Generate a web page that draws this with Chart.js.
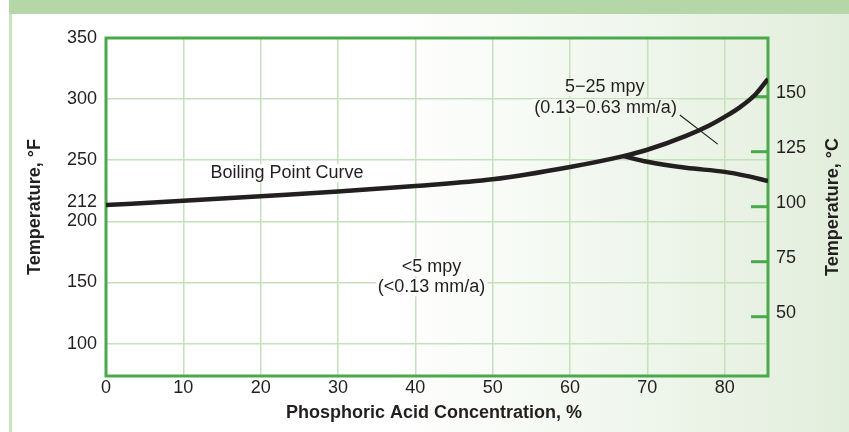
<!DOCTYPE html>
<html>
<head>
<meta charset="utf-8">
<script src="https://cdn.jsdelivr.net/npm/chart.js@4.4.1/dist/chart.umd.min.js"></script>
<style>
  html, body { margin: 0; padding: 0; background: #fff; }
  #wrap { width: 849px; height: 432px; }
</style>
</head>
<body>
<div id="wrap"><canvas id="myChart" width="849" height="432"></canvas></div>
<script>
// boiling point curve, temperature in °F against acid concentration in %
const concentration = [0, 10, 20, 30, 40, 50, 60, 66.9, 70, 75, 78, 80, 82, 84, 85.6];
const boilingF = [213.3, 216.8, 220.6, 224.4, 229, 234.4, 244.5, 253.4, 258.6, 270, 278.5, 285.5, 293.5, 304, 316.5];

// 5 mpy isocorrosion line branching off the boiling curve
const branchConc = [66.9, 70, 75, 80, 82.8, 85.6];
const branchF = [253.4, 248.7, 243.8, 240.5, 237.2, 233];

// leader line from the "5-25 mpy" label
const leaderConc = [74.2, 79.1];
const leaderF = [287, 263.2];

const xTicks = [0, 10, 20, 30, 40, 50, 60, 70, 80];
const fTicks = [100, 150, 200, 212, 250, 300, 350];
const cTicks = [50, 75, 100, 125, 150];

const xMin = 0, xMax = 85.6;
const fMin = 73.5, fMax = 350;
const toC = (f) => (f - 32) * 5 / 9;

const labels = [
  { text: "Boiling Point Curve", x: 23.4, y: 239.5 },
  { text: "<5 mpy", x: 42.1, y: 162.5 },
  { text: "(<0.13 mm/a)", x: 42.1, y: 146 },
  { text: "5\u221225 mpy", x: 64.5, y: 309.9 },
  { text: "(0.13\u22120.63 mm/a)", x: 64.6, y: 292.7 },
];

const textColor = "#231f20";
const gridColor = "#c4e2ba";
const frameColor = "#4aa94a";
const font = '"Liberation Sans", Arial, Helvetica, sans-serif';

function toPoints(xs, ys) {
  return xs.map((x, i) => ({ x: x, y: ys[i] }));
}

function panelGradient(ctx) {
  const g = ctx.createLinearGradient(12, 0, 849, 0);
  g.addColorStop(0, "#ffffff");
  g.addColorStop(0.45, "#ffffff");
  g.addColorStop(1, "#e2eedc");
  return g;
}

const backdrop = {
  id: "backdrop",
  beforeDraw(chart) {
    const ctx = chart.ctx;
    ctx.save();
    ctx.fillStyle = "#ffffff";
    ctx.fillRect(0, 0, chart.width, chart.height);
    ctx.fillStyle = panelGradient(ctx);
    ctx.fillRect(12, 14, chart.width - 12, chart.height - 14);
    ctx.fillStyle = "#b5d7a8";
    ctx.fillRect(9, 0, chart.width - 9, 14);
    ctx.fillStyle = "#c8e4c0";
    ctx.fillRect(9, 14, 3, chart.height - 14);
    ctx.restore();
  },
  beforeDatasetsDraw(chart) {
    const ctx = chart.ctx;
    const a = chart.chartArea;
    const xs = chart.scales.x;
    const ys = chart.scales.y;
    const yc = chart.scales.yC;
    ctx.save();

    // frame
    ctx.strokeStyle = frameColor;
    ctx.lineWidth = 3;
    ctx.strokeRect(a.left, a.top, a.right - a.left, a.bottom - a.top);

    // inward ticks of the °C axis
    for (const c of cTicks) {
      const py = yc.getPixelForValue(c);
      ctx.beginPath();
      ctx.moveTo(a.right - 17, py);
      ctx.lineTo(a.right, py);
      ctx.stroke();
    }

    // region labels with a knockout behind them
    ctx.font = "18px " + font;
    ctx.textAlign = "center";
    ctx.textBaseline = "middle";
    for (const l of labels) {
      const px = xs.getPixelForValue(l.x);
      const py = ys.getPixelForValue(l.y);
      const w = ctx.measureText(l.text).width;
      ctx.fillStyle = panelGradient(ctx);
      ctx.fillRect(px - w / 2 - 2, py - 9, w + 4, 18);
    }
    ctx.fillStyle = textColor;
    for (const l of labels) {
      ctx.fillText(l.text, xs.getPixelForValue(l.x), ys.getPixelForValue(l.y));
    }

    // axis titles
    ctx.font = "bold 18px " + font;
    ctx.fillText("Phosphoric Acid Concentration, %", (a.left + a.right) / 2 - 3, 413);
    const midY = (a.top + a.bottom) / 2;
    ctx.translate(35, midY);
    ctx.rotate(-Math.PI / 2);
    ctx.fillText("Temperature, \u00b0F", 0, 0);
    ctx.rotate(Math.PI / 2);
    ctx.translate(833 - 35, 0);
    ctx.rotate(-Math.PI / 2);
    ctx.fillText("Temperature, \u00b0C", 0, 0);
    ctx.restore();
  },
};

const tickFont = { family: font, size: 18 };
// a two-line label with a small line height nudges the text upward
const raisedFont = (px) => ({ family: font, size: 18, lineHeight: px + "px" });

const newChart = new Chart(document.getElementById("myChart"), {
  type: "line",
  data: {
    datasets: [
      {
        data: toPoints(concentration, boilingF),
        borderColor: textColor,
        borderWidth: 4.5,
        pointRadius: 0,
        cubicInterpolationMode: "monotone",
      },
      {
        data: toPoints(branchConc, branchF),
        borderColor: textColor,
        borderWidth: 4.5,
        pointRadius: 0,
        cubicInterpolationMode: "monotone",
      },
      {
        data: toPoints(leaderConc, leaderF),
        borderColor: textColor,
        borderWidth: 1.2,
        pointRadius: 0,
      },
    ],
  },
  options: {
    responsive: false,
    animation: false,
    layout: { padding: { top: 38, left: 0, right: 0, bottom: 0 } },
    plugins: { legend: { display: false }, tooltip: { enabled: false } },
    scales: {
      x: {
        type: "linear",
        min: xMin,
        max: xMax,
        afterBuildTicks: (s) => { s.ticks = xTicks.map((v) => ({ value: v })); },
        afterFit: (s) => { s.height = 56; },
        grid: {
          color: (c) => (c.tick && c.tick.value === 0 ? "transparent" : gridColor),
          lineWidth: 1.5,
          drawTicks: false,
        },
        border: { display: false },
        ticks: { color: textColor, font: tickFont, padding: 1, maxRotation: 0 },
      },
      y: {
        type: "linear",
        position: "left",
        min: fMin,
        max: fMax,
        afterBuildTicks: (s) => { s.ticks = fTicks.map((v) => ({ value: v })); },
        afterFit: (s) => { s.width = 106; },
        grid: {
          color: (c) => (c.tick && (c.tick.value === 212 || c.tick.value === 350) ? "transparent" : gridColor),
          lineWidth: 1.5,
          drawTicks: false,
        },
        border: { display: false },
        ticks: {
          color: textColor,
          padding: 9,
          font: (c) => (c.tick && c.tick.value === 212 ? raisedFont(10) : tickFont),
          callback: (v) => (v === 212 ? ["212", ""] : String(v)),
        },
      },
      yC: {
        type: "linear",
        position: "right",
        min: toC(fMin),
        max: toC(fMax),
        afterBuildTicks: (s) => { s.ticks = cTicks.map((v) => ({ value: v })); },
        afterFit: (s) => { s.width = 81; },
        grid: { drawOnChartArea: false, drawTicks: false },
        border: { display: false },
        ticks: {
          color: textColor,
          padding: 8,
          font: raisedFont(7),
          callback: (v) => [String(v), ""],
        },
      },
    },
  },
  plugins: [backdrop],
});
</script>
</body>
</html>
